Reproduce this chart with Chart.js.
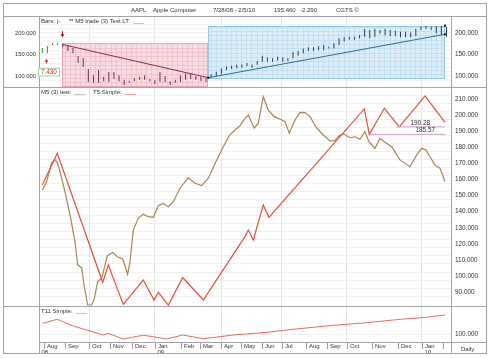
<!DOCTYPE html>
<html><head><meta charset="utf-8">
<script src="https://cdn.jsdelivr.net/npm/chart.js@4.4.1/dist/chart.umd.min.js"></script>
<style>
html,body{margin:0;padding:0;background:#fff;}
#wrap{position:relative;width:490px;height:358px;overflow:hidden;font-family:'Liberation Sans',Arial,sans-serif;color:#333;}
canvas{position:absolute;left:0;top:0;}
.t{position:absolute;font-size:6px;line-height:6px;white-space:nowrap;color:#333;}
.s{display:inline-block;width:11px;height:0;border-bottom:1px solid #bbb;vertical-align:-1px;margin-left:3px;}
</style></head><body>
<div id="wrap">
<canvas id="c" width="490" height="358"></canvas>
<div class="t" style="left:131px;top:6.5px">AAPL</div>
<div class="t" style="left:153px;top:6.5px">Apple Computer</div>
<div class="t" style="left:213px;top:6.5px">7/28/08 - 2/5/10</div>
<div class="t" style="left:274px;top:6.5px">195.460</div>
<div class="t" style="left:300px;top:6.5px">-2.290</div>
<div class="t" style="left:336px;top:6.5px">CGTS ©</div>
<div class="t" style="left:41px;top:17.5px">Bars: |-</div>
<div class="t" style="left:69px;top:17.5px">** M5 trade (3) Test LT:<span class="s" style="border-color:#c8c8c8"></span></div>
<div class="t" style="left:41px;top:88.5px">M5 (3) test:<span class="s" style="border-color:#cfc3ad"></span></div>
<div class="t" style="left:93px;top:88.5px">T5 Simple:<span class="s" style="border-color:#f3a196"></span></div>
<div class="t" style="left:41px;top:308px">T11 Simple:<span class="s" style="border-color:#f5b8ad"></span></div>
<div class="t" style="left:461px;top:345.5px">Daily</div>
</div>
<script>
// ---------- data ----------
const monthLabels = ['Aug','Sep','Oct','Nov','Dec','Jan','Feb','Mar','Apr','May','Jun','Jul','Aug','Sep','Oct','Nov','Dec','Jan',''];
const yearLabels  = ['08','','','','','09','','','','','','','','','','','','10',''];
// x unit: days from 2008-07-28
const monthTickX  = [3.9,33.5,66.3,95.0,124.3,155.8,191.8,218.2,246.9,273.4,302.2,329.5,362.8,391.1,418.4,452.6,489.0,521.0,549.8];
const panel1Ticks = [100,150,200];
const panel2Ticks = [90,100,110,120,130,140,150,160,170,180,190,200,210];
const panel3Ticks = [100];

// weekly bars (low / high)
const barLow  = [153,153,172,172,
  167,158,153,130,121,86,84,84,88,86,93,88,79,84,88,91,91,88,81,86,86,79,84,86,91,93,91,88,86,
  96,100,104,114,116,118,119,123,119,126,133,133,133,136,133,135,141,147,153,158,158,160,160,164,164,172,180,184,184,188,191,188,191,199,195,193,193,190,190,190,193,207,209,207,199,195,191];
const barHigh = [165,170,177,177,
  174,172,165,146,142,116,102,114,98,109,109,102,91,89,95,98,102,93,91,109,100,88,91,102,105,105,100,98,95,
  104,110,118,122,124,126,127,130,127,135,147,143,141,145,143,141,155,158,164,167,167,169,172,168,176,188,190,191,191,195,209,207,209,207,209,207,205,203,203,201,209,215,216,215,216,216,215];

const m5X = [2.0,8.0,14.9,19.4,22.5,26.2,33.1,40.9,46.7,50.4,55.9,59.1,64.1,69.6,73.2,77.8,83.3,90.9,98.3,104.6,112.0,118.8,122.0,126.5,133.3,140.2,147.0,153.9,160.7,167.5,174.4,181.2,190.4,201.7,210.9,220.1,229.1,240.6,249.6,257.8,265.6,272.5,279.3,283.8,292.0,297.5,304.3,311.2,319.4,329.5,334.0,339.9,347.7,354.6,361.4,368.2,377.4,386.4,395.6,401.5,409.3,414.7,422.9,429.8,436.6,443.4,448.9,457.1,464.0,470.8,480.0,491.3,505.0,514.2,521.0,526.9,539.2,546.1,552.9];
const m5Y = [151.0,156.2,168.2,169.7,168.2,162.4,149.9,133.4,118.8,104.4,102.7,91.9,79.5,79.5,83.6,94.0,96.1,110.1,112.2,109.5,108.1,98.6,106.4,126.1,133.4,135.9,134.4,134.0,141.2,142.7,140.6,143.7,152.1,158.6,155.2,153.7,158.3,169.7,177.9,184.8,188.3,191.0,195.6,197.6,189.4,192.5,209.0,200.7,196.6,194.5,193.5,186.3,194.5,199.3,199.1,196.6,189.4,185.2,181.5,181.5,185.2,185.8,183.5,184.1,182.5,187.3,181.0,176.9,183.1,180.7,177.9,169.7,165.5,172.8,176.9,175.9,166.5,164.5,156.2];

const t5X = [2.0,22.5,84.6,92.3,112.8,140.2,154.8,160.7,174.4,194.1,222.3,279.3,283.8,290.7,304.3,312.1,442.5,449.4,469.9,490.4,525.6,552.9];
const t5Y = [154.1,173.8,93.6,104.4,79.9,95.0,82.6,87.4,79.4,96.5,82.6,122.0,126.1,119.9,141.7,134.0,201.4,185.57,201.8,190.28,209.5,193.1];

const t11X = [2.6,22.5,44.4,67.3,85.5,92.3,112.8,124.3,140.2,153.9,172.2,194.1,222.3,263.3,309.0,345.4,400.1,445.8,491.4,527.9,552.9];
const t11Y = [121.4,129.4,116.0,106.0,98.0,101.4,90.0,93.4,97.4,94.6,90.0,98.0,90.6,98.0,103.4,109.4,117.4,122.6,129.4,133.4,138.0];

const shortTradeX = [28.6,229.1], shortTradeY = [173.7,96.0];
const longTradeX  = [229.1,552.9], longTradeY  = [96.0,197.0];
const redZoneX = [28.6,229.1], redZoneTop = 176.0;
const blueZoneX = [229.1,552.9], blueZoneY = [93.0,216.3];
const tradeMarkX = [229.1,552.9,552.9], tradeMarkY = [96.0,197.0,217.0];
const levelValues = [190.28,185.57], levelStartX = [486.8,450.3], levelEndX = 552.9;
const changeLabel = '7.430';
const entryBar = 1, exitSignalBar = 4;

// ---------- helpers ----------
const FONT = "'Liberation Sans', Arial, sans-serif";
const pts = (xs, ys) => xs.map((x, i) => ({x, y: ys[i]}));
const weekX = barLow.map((_, i) => 7 * i + 2);
const fmt3 = v => v.toFixed(3);
const isQuarter = i => ['Jan','Apr','Jul','Oct'].includes(monthLabels[i]);
function barColor(x) {
  if (x < redZoneX[0] - 1) return '#2a9a38';
  if (x <= redZoneX[1]) return '#6e2a4c';
  return '#223f60';
}

function drawZone(chart, xr, yr, fill, lineCol, edgeCol) {
  const {ctx} = chart, xs = chart.scales.x, ys = chart.scales.y1;
  const l = Math.round(xs.getPixelForValue(xr[0])), r = Math.round(xs.getPixelForValue(xr[1]));
  const t = Math.round(ys.getPixelForValue(yr[1])), b = Math.round(Math.min(ys.getPixelForValue(yr[0]), ys.bottom));
  ctx.save();
  ctx.fillStyle = fill; ctx.fillRect(l, t, r - l, b - t);
  ctx.beginPath(); ctx.rect(l, t, r - l, b - t); ctx.clip();
  ctx.strokeStyle = lineCol; ctx.lineWidth = 1;
  ctx.beginPath();
  const wk = xs.getPixelForValue(7) - xs.getPixelForValue(0);
  for (let px = l + 2.5; px < r; px += wk) { ctx.moveTo(Math.round(px) + 0.5, t); ctx.lineTo(Math.round(px) + 0.5, b); }
  const step = ys.getPixelForValue(0) - ys.getPixelForValue(10);
  for (let py = b - 0.5; py > t; py -= step) { ctx.moveTo(l, Math.round(py) + 0.5); ctx.lineTo(r, Math.round(py) + 0.5); }
  ctx.stroke();
  ctx.restore();
  ctx.save();
  ctx.strokeStyle = edgeCol; ctx.lineWidth = 1;
  ctx.strokeRect(l + 0.5, t + 0.5, r - l - 1, b - t - 1);
  ctx.restore();
}

function arrow(ctx, x, yTail, yTip, col) {
  const d = yTip > yTail ? 1 : -1;
  ctx.save();
  ctx.strokeStyle = col; ctx.fillStyle = col; ctx.lineWidth = 1;
  ctx.beginPath(); ctx.moveTo(x, yTail); ctx.lineTo(x, yTip - 2 * d); ctx.stroke();
  ctx.beginPath(); ctx.moveTo(x - 2, yTip - 3 * d); ctx.lineTo(x + 2, yTip - 3 * d); ctx.lineTo(x, yTip); ctx.closePath(); ctx.fill();
  ctx.restore();
}

const zonePlugin = {
  id: 'zones',
  beforeDatasetsDraw(chart) {
    drawZone(chart, redZoneX, [chart.scales.y1.min, redZoneTop], '#f9dce3', '#f1c3ce', '#e9a3b4');
    drawZone(chart, blueZoneX, blueZoneY, '#dcedf8', '#c2e0f1', '#93c8e6');
  }
};

const clipPlugin = {
  id: 'panelClip',
  beforeDatasetDraw(chart, args) {
    const ys = chart.scales[args.meta.yAxisID], ca = chart.chartArea, ctx = chart.ctx;
    ctx.save(); ctx.beginPath(); ctx.rect(ca.left, ys.top, ca.right - ca.left, ys.bottom - ys.top); ctx.clip();
  },
  afterDatasetDraw(chart) { chart.ctx.restore(); }
};

const annoPlugin = {
  id: 'anno',
  afterDatasetsDraw(chart) {
    const {ctx} = chart, xs = chart.scales.x, y1 = chart.scales.y1, y2 = chart.scales.y2, ca = chart.chartArea;
    ctx.save();
    ctx.font = '6.4px ' + FONT; ctx.fillStyle = '#333'; ctx.textAlign = 'right'; ctx.textBaseline = 'middle';
    const offs = [22, 17];
    levelValues.forEach((v, i) => {
      ctx.fillText(v.toFixed(2), ca.right - offs[i], y2.getPixelForValue(v) - 4);
    });
    ctx.restore();
    const xs4 = Math.round(xs.getPixelForValue(weekX[exitSignalBar])) - 0.5;
    const topPx = y1.getPixelForValue(redZoneTop);
    arrow(ctx, xs4, topPx - 12, topPx - 6, '#8b1a1a');
    const xs1 = Math.round(xs.getPixelForValue(weekX[entryBar])) - 0.5;
    const lowPx = y1.getPixelForValue(barLow[entryBar]);
    arrow(ctx, xs1, lowPx + 10.5, lowPx + 5.5, '#e03a30');
  }
};

// month / year labels of the x scale, placed from the x scale's own pixels
const monthAxisPlugin = {
  id: 'monthAxis',
  afterDraw(chart) {
    const {ctx} = chart, xs = chart.scales.x, ca = chart.chartArea;
    const top = Math.round(ca.bottom);
    ctx.save();
    ctx.strokeStyle = '#9c9c9c'; ctx.lineWidth = 1;
    ctx.beginPath();
    monthTickX.forEach(v => {
      const px = Math.round(xs.getPixelForValue(v)) + 0.5;
      ctx.moveTo(px, top); ctx.lineTo(px, top + 7);
    });
    ctx.stroke();
    ctx.fillStyle = '#333'; ctx.font = '6px ' + FONT; ctx.textAlign = 'left'; ctx.textBaseline = 'middle';
    monthTickX.forEach((v, i) => {
      const px = Math.round(xs.getPixelForValue(v));
      if (monthLabels[i]) ctx.fillText(monthLabels[i], px + 3, top + 3.9);
      if (yearLabels[i]) ctx.fillText(yearLabels[i], (i === 0 ? Math.round(ca.left) : px) + 2.5, top + 10.2);
    });
    ctx.restore();
  }
};

const framePlugin = {
  id: 'frame',
  afterDraw(chart) {
    const {ctx} = chart, ca = chart.chartArea, y1 = chart.scales.y1, y2 = chart.scales.y2, xs = chart.scales.x;
    ctx.save();
    ctx.strokeStyle = '#a4a4a4'; ctx.lineWidth = 1;
    ctx.strokeRect(3.5, 3.5, 483, 350);
    ctx.beginPath();
    const h = (y, x0, x1) => { ctx.moveTo(x0, y); ctx.lineTo(x1, y); };
    const v = (x, y0, y1) => { ctx.moveTo(x, y0); ctx.lineTo(x, y1); };
    h(16.5, 3, 487);
    h(Math.round(y1.bottom) + 0.5, 3, 487);
    h(Math.round(y2.bottom) + 0.5, 3, 487);
    h(Math.round(ca.bottom) + 0.5, ca.left, 487);
    v(Math.round(ca.left) + 0.5, 16, 354);
    v(Math.round(ca.right) - 0.5, 16, 354);
    ctx.stroke();
    const bx = xs.getPixelForValue(weekX[entryBar]) - 9.5;
    const by = y1.getPixelForValue(barLow[entryBar]) + 15.3;
    ctx.fillStyle = '#fff'; ctx.fillRect(bx, by, 21.5, 7.7);
    ctx.strokeStyle = '#a6d6a6'; ctx.strokeRect(Math.round(bx) + 0.5, Math.round(by) + 0.5, 21, 7.5);
    ctx.fillStyle = '#d42a22'; ctx.font = '6.4px ' + FONT; ctx.textAlign = 'center'; ctx.textBaseline = 'middle';
    ctx.fillText(changeLabel, bx + 11, by + 4.2);
    ctx.restore();
  }
};

const rightTicks = (list, extra) => Object.assign({
  autoSkip: false, padding: 3, color: '#333', font: {family: FONT, size: 6.4},
  callback: v => list.includes(v) ? fmt3(v) : ''
}, extra || {});

new Chart(document.getElementById('c'), {
  data: {
    datasets: [
      {type: 'scatter', xAxisID: 'x', yAxisID: 'y1', data: pts(tradeMarkX, tradeMarkY), pointStyle: 'rect', pointRadius: 1.4, backgroundColor: '#111', borderWidth: 0},
      {type: 'line', xAxisID: 'x', yAxisID: 'y1', data: pts(shortTradeX, shortTradeY), borderColor: '#8c2a48', borderWidth: 1, pointRadius: 0},
      {type: 'line', xAxisID: 'x', yAxisID: 'y1', data: pts(longTradeX, longTradeY), borderColor: '#2f6d90', borderWidth: 1, pointRadius: 0},
      {type: 'bar', xAxisID: 'x', yAxisID: 'y1', data: barLow.map((lo, i) => ({x: weekX[i], y: [lo, barHigh[i]]})),
        barThickness: 1, inflateAmount: 0, borderWidth: 0, grouped: false,
        backgroundColor: c => barColor(weekX[c.dataIndex])},
      {type: 'line', xAxisID: 'x', yAxisID: 'y2', data: [{x: levelStartX[0], y: levelValues[0]}, {x: levelEndX, y: levelValues[0]}], borderColor: '#d7a2c8', borderWidth: 1, pointRadius: 0},
      {type: 'line', xAxisID: 'x', yAxisID: 'y2', data: [{x: levelStartX[1], y: levelValues[1]}, {x: levelEndX, y: levelValues[1]}], borderColor: '#d7a2c8', borderWidth: 1, pointRadius: 0},
      {type: 'line', label: 'T5 Simple', xAxisID: 'x', yAxisID: 'y2', data: pts(t5X, t5Y), borderColor: '#ee4c34', borderWidth: 1.2, pointRadius: 0, tension: 0},
      {type: 'line', label: 'M5 (3) test', xAxisID: 'x', yAxisID: 'y2', data: pts(m5X, m5Y), borderColor: '#a5874e', borderWidth: 1.2, pointRadius: 0, tension: 0},
      {type: 'line', label: 'T11 Simple', xAxisID: 'x', yAxisID: 'y3', data: pts(t11X, t11Y), borderColor: '#ee6a5a', borderWidth: 1, pointRadius: 0, tension: 0}
    ]
  },
  options: {
    responsive: false, animation: false, events: [],
    layout: {padding: {left: 3, right: 3, top: 16, bottom: 4}},
    plugins: {legend: {display: false}, tooltip: {enabled: false}, title: {display: false}},
    scales: {
      x: {
        type: 'linear', position: 'bottom', min: -2.5, max: 562.5, offset: false,
        afterBuildTicks: s => { s.ticks = monthTickX.map(v => ({value: v})); },
        afterFit: s => { s.height = 12; },
        border: {display: false},
        grid: {offset: false, color: c => isQuarter(c.index) ? '#e4e4e4' : 'rgba(0,0,0,0)', drawTicks: false, lineWidth: 1},
        ticks: {display: false, autoSkip: false, maxRotation: 0, minRotation: 0}
      },
      y1: {type: 'linear', position: 'right', stack: 'R', stackWeight: 71, weight: 1, min: 74.4, max: 239.5,
        afterFit: s => { s.width = 35; }, border: {display: false},
        grid: {color: '#f2f2f2', drawTicks: false}, ticks: rightTicks(panel1Ticks, {stepSize: 10})},
      y2: {type: 'linear', position: 'right', stack: 'R', stackWeight: 219, weight: 2, min: 78.87, max: 215.04,
        afterFit: s => { s.width = 35; }, border: {display: false},
        grid: {color: '#f0f0f0', drawTicks: false}, ticks: rightTicks(panel2Ticks, {stepSize: 5, labelOffset: 4})},
      y3: {type: 'linear', position: 'right', stack: 'R', stackWeight: 36, weight: 3, min: 84, max: 156,
        afterBuildTicks: s => { s.ticks = panel3Ticks.map(v => ({value: v})); },
        afterFit: s => { s.width = 35; }, border: {display: false},
        grid: {color: '#f0f0f0', drawTicks: false}, ticks: rightTicks(panel3Ticks)},
      y1L: {type: 'linear', position: 'left', stack: 'L', stackWeight: 71, weight: 3, min: 74.4, max: 239.5,
        afterBuildTicks: s => { s.ticks = panel1Ticks.map(v => ({value: v})); },
        afterFit: s => { s.width = 36; }, border: {display: false}, grid: {display: false, drawTicks: false},
        ticks: {autoSkip: false, padding: 3, color: '#333', font: {family: FONT, size: 5.8}, callback: v => fmt3(v)}},
      y2L: {type: 'linear', position: 'left', stack: 'L', stackWeight: 219, weight: 2,
        afterFit: s => { s.width = 36; }, border: {display: false}, grid: {display: false}, ticks: {display: false}},
      y3L: {type: 'linear', position: 'left', stack: 'L', stackWeight: 36, weight: 1,
        afterFit: s => { s.width = 36; }, border: {display: false}, grid: {display: false}, ticks: {display: false}}
    }
  },
  plugins: [zonePlugin, clipPlugin, annoPlugin, monthAxisPlugin, framePlugin]
});
</script>
</body></html>
